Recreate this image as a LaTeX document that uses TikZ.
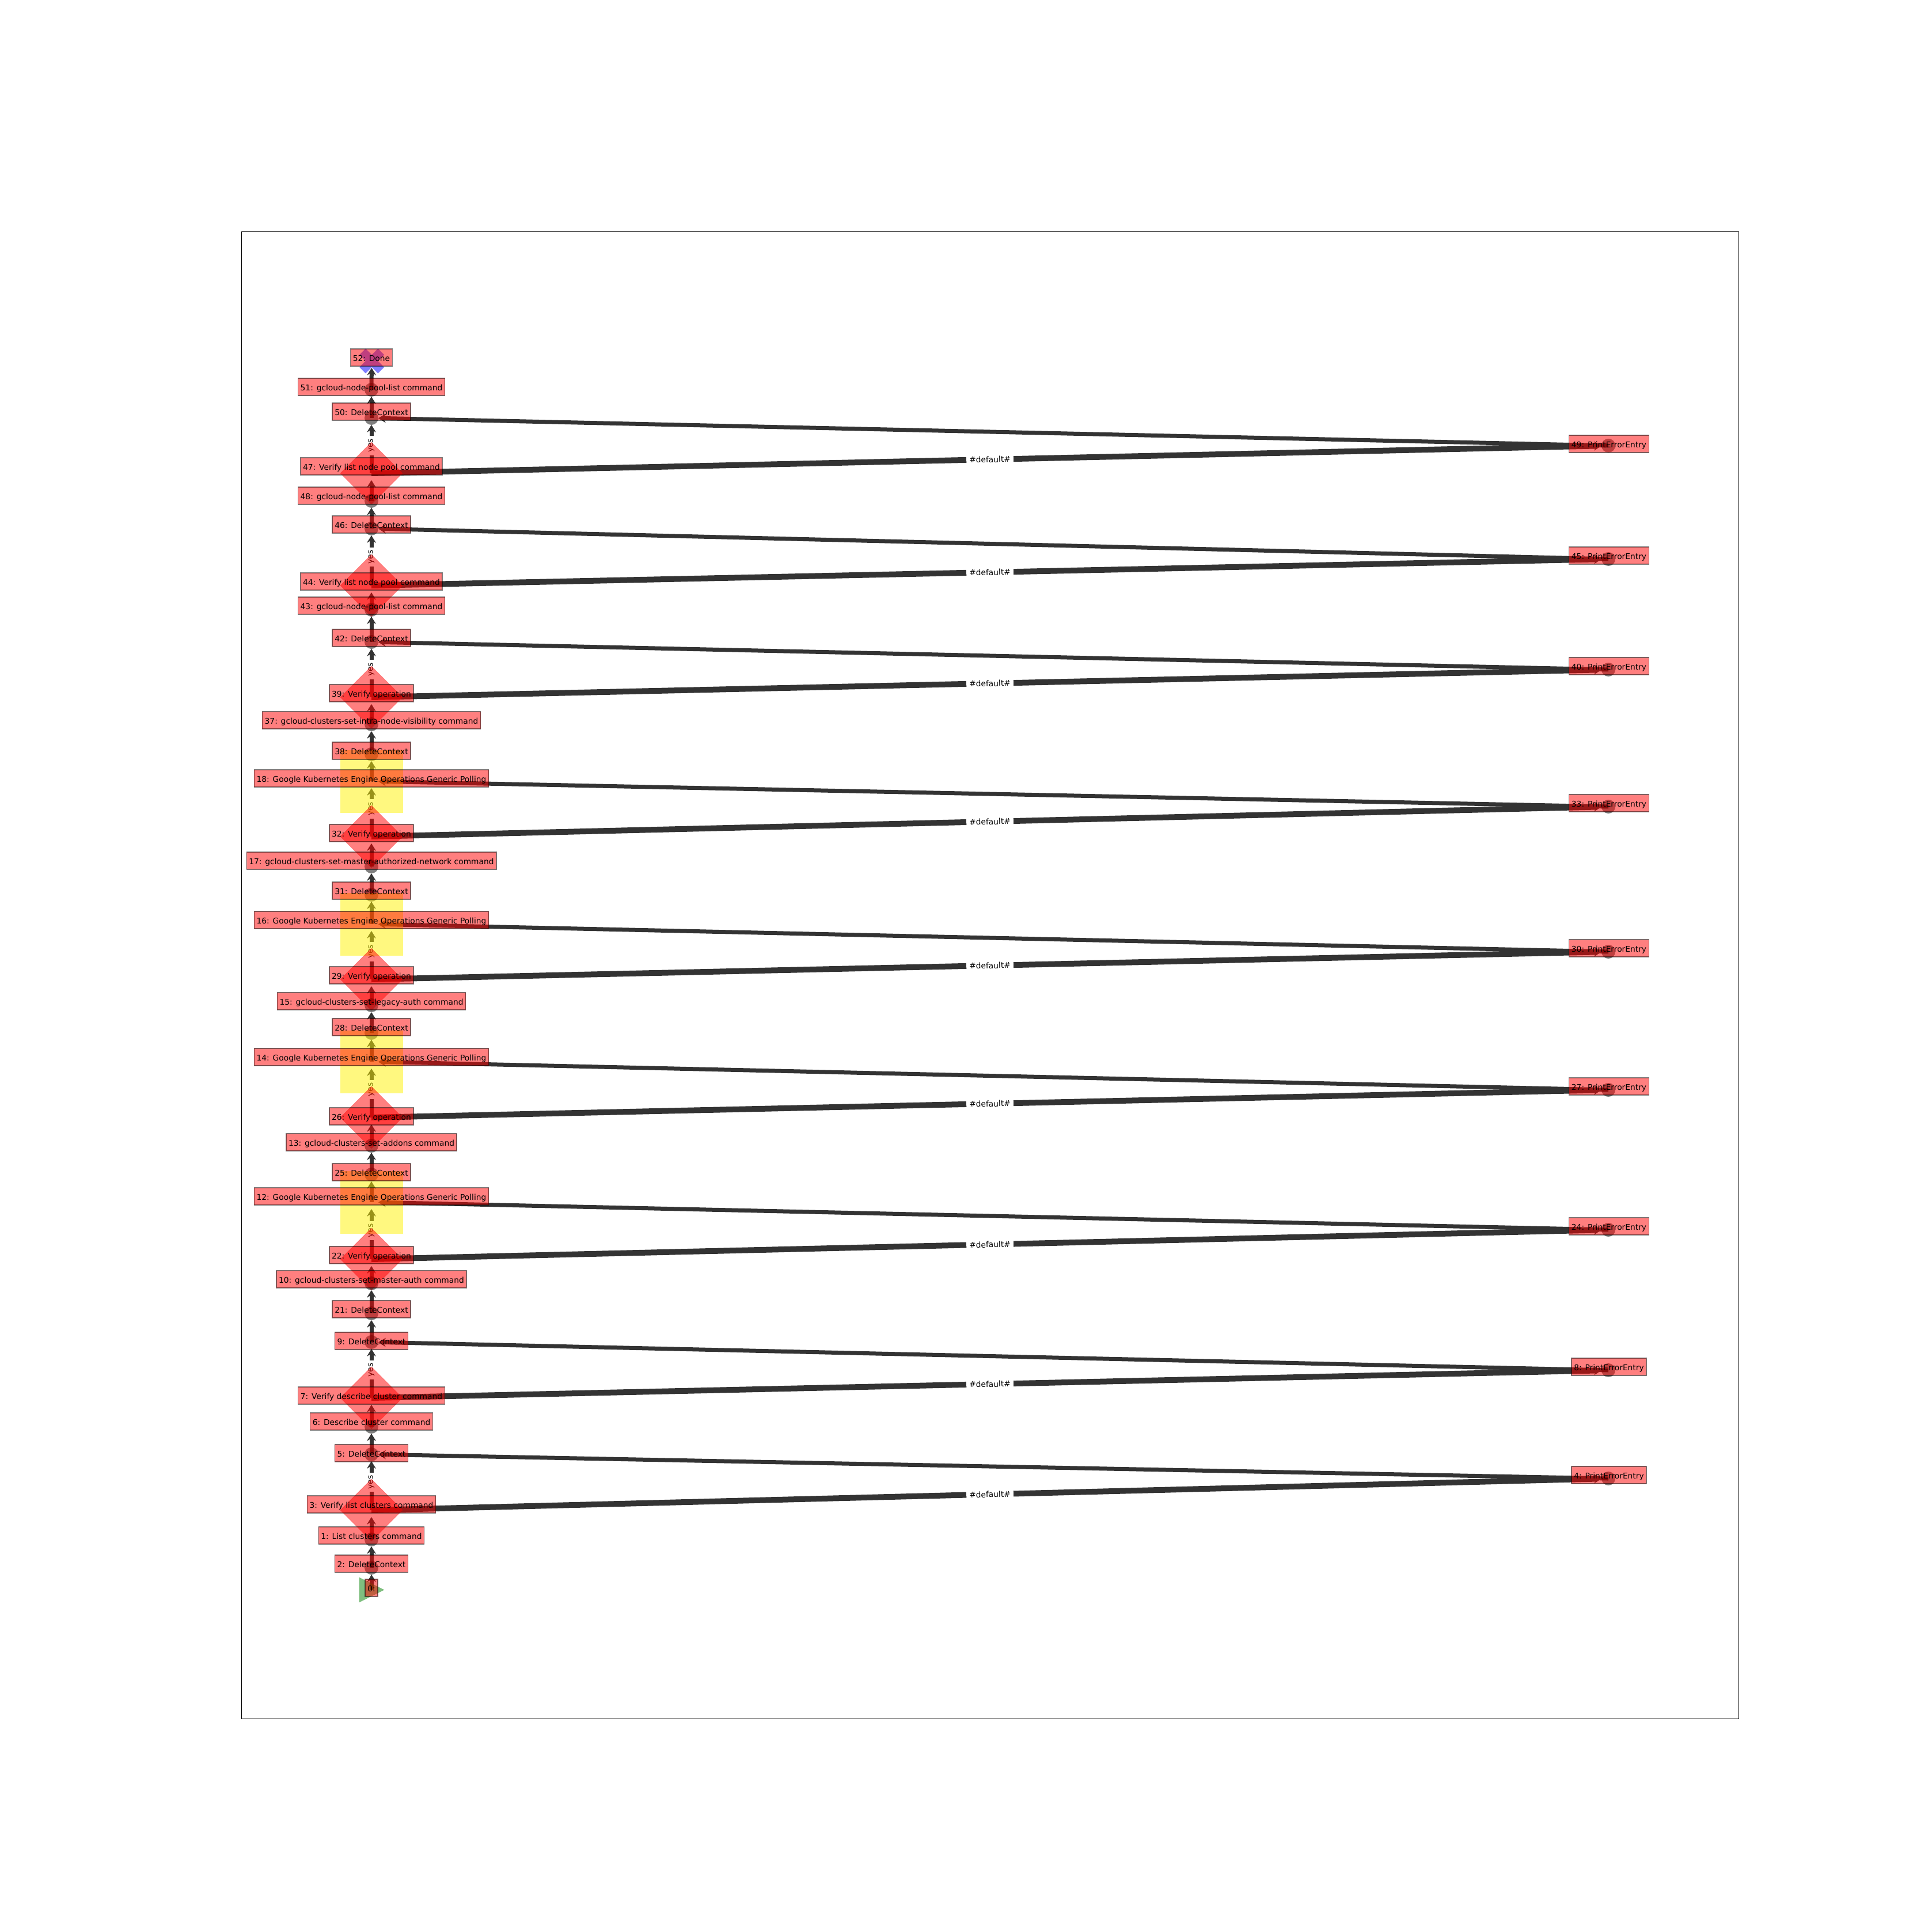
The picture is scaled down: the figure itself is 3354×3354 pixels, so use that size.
\documentclass[tikz,border=0pt]{standalone}
\usepackage{fontspec}
\setmainfont{DejaVu Sans}
\usetikzlibrary{shapes.geometric,arrows.meta}
\pgfdeclarelayer{edges}
\pgfdeclarelayer{labels}
\pgfsetlayers{edges,main,labels}
\definecolor{mplgreen}{RGB}{0,128,0}
\definecolor{edgegray}{RGB}{51,51,51}
\tikzset{
  lfont/.style={font=\fontsize{6.9pt}{8pt}\selectfont},
  lbl/.style={lfont, draw=black, draw opacity=0.5, line width=0.7pt, fill=red, fill opacity=0.5, text opacity=1, inner xsep=2.1pt, inner ysep=2.0pt, text height=0.86em, text depth=0.24em},
  circ/.style={circle, inner sep=0pt, minimum size=12pt, fill=black, fill opacity=0.5},
  dia/.style={diamond, inner sep=0pt, minimum width=54pt, minimum height=54pt, fill=red, fill opacity=0.5, draw=red, draw opacity=0.3, line width=0.4pt},
  sq/.style={rectangle, inner sep=0pt, minimum size=54.5pt, fill=yellow, fill opacity=0.5},
  mk/.style={inner sep=0pt, minimum size=21.5pt},
  edge/.style={draw=edgegray, line width=3.5pt, shorten >=6pt, -{Stealth[length=6.5pt,width=8pt,inset=2.5pt,line width=0.4pt]}},
  dflt/.style={edge, line width=5pt},
  elbl/.style={lfont, fill=white, inner xsep=2.5pt, inner ysep=1.5pt, sloped, text=black}
}
\begin{document}
\begin{tikzpicture}[x=0.5pt,y=-0.5pt]
\useasboundingbox (0,0) rectangle (3354,3354);
\draw[line width=0.8pt] (419.3,402.7) rectangle (3019.3,2985.3);

% ---- markers (left column) ----
\node[mk] (m52) at (645.5,627) {};
\fill[blue, fill opacity=0.5, shift={(m52.center)}, rotate=45]
  (-7.6,-22.8) -- (7.6,-22.8) -- (7.6,-7.6) -- (22.8,-7.6) -- (22.8,7.6) -- (7.6,7.6) -- (7.6,22.8) -- (-7.6,22.8) -- (-7.6,7.6) -- (-22.8,7.6) -- (-22.8,-7.6) -- (-7.6,-7.6) -- cycle;
\node[circ] (m51) at (645,677) {};
\node[circ] (m50) at (645,726) {};
\node[dia]  (m47) at (645,822) {};
\node[circ] (m48) at (645,870) {};
\node[circ] (m46) at (645,918) {};
\node[dia]  (m44) at (645,1017) {};
\node[circ] (m43) at (645,1059) {};
\node[circ] (m42) at (645,1115) {};
\node[dia]  (m39) at (645,1211) {};
\node[circ] (m37) at (645,1258) {};
\node[circ] (m38) at (645,1310) {};
\node[sq]   (m18) at (645,1357) {};
\node[dia]  (m32) at (645,1453) {};
\node[circ] (m17) at (645,1505) {};
\node[circ] (m31) at (645,1554) {};
\node[sq]   (m16) at (645,1605) {};
\node[dia]  (m29) at (645,1701) {};
\node[circ] (m15) at (645,1746) {};
\node[circ] (m28) at (645,1794) {};
\node[sq]   (m14) at (645,1844) {};
\node[dia]  (m26) at (645,1941) {};
\node[circ] (m13) at (645,1990) {};
\node[circ] (m25) at (645,2040) {};
\node[sq]   (m12) at (645,2088) {};
\node[dia]  (m22) at (645,2187) {};
\node[circ] (m10) at (645,2229) {};
\node[circ] (m21) at (645,2281) {};
\node[circ] (m9)  at (645,2331) {};
\node[dia]  (m7)  at (645,2428) {};
\node[circ] (m6)  at (645,2478) {};
\node[circ] (m5)  at (645,2526) {};
\node[dia]  (m3)  at (645,2623) {};
\node[circ] (m1)  at (645,2674) {};
\node[circ] (m2)  at (645,2723) {};
\node[mk]   (m0)  at (645.5,2761.5) {};
\fill[mplgreen, fill opacity=0.5] (m0.north west) -- (m0.east) -- (m0.south west) -- cycle;

% ---- markers (right column) ----
\node[circ] (m49) at (2793,774) {};
\node[circ] (m45) at (2793,971) {};
\node[circ] (m40) at (2793,1163) {};
\node[circ] (m33) at (2793,1401) {};
\node[circ] (m30) at (2793,1653) {};
\node[circ] (m27) at (2793,1893) {};
\node[circ] (m24) at (2793,2136) {};
\node[circ] (m8)  at (2793,2380) {};
\node[circ] (m4)  at (2793,2568) {};

% ---- edges ----
\begin{pgfonlayer}{edges}
\draw[edge] (m0.center) -- (m2.center);
\draw[edge] (m2.center) -- (m1.center);
\draw[edge] (m1.center) -- (m3.center);
\draw[edge] (m3.center) -- node[elbl]{yes} (m5.center);
\draw[edge] (m5.center) -- (m6.center);
\draw[edge] (m6.center) -- (m7.center);
\draw[edge] (m7.center) -- node[elbl]{yes} (m9.center);
\draw[edge] (m9.center) -- (m21.center);
\draw[edge] (m21.center) -- (m10.center);
\draw[edge] (m10.center) -- (m22.center);
\draw[edge] (m22.center) -- node[elbl]{yes} (m12.center);
\draw[edge] (m12.center) -- (m25.center);
\draw[edge] (m25.center) -- (m13.center);
\draw[edge] (m13.center) -- (m26.center);
\draw[edge] (m26.center) -- node[elbl]{yes} (m14.center);
\draw[edge] (m14.center) -- (m28.center);
\draw[edge] (m28.center) -- (m15.center);
\draw[edge] (m15.center) -- (m29.center);
\draw[edge] (m29.center) -- node[elbl]{yes} (m16.center);
\draw[edge] (m16.center) -- (m31.center);
\draw[edge] (m31.center) -- (m17.center);
\draw[edge] (m17.center) -- (m32.center);
\draw[edge] (m32.center) -- node[elbl]{yes} (m18.center);
\draw[edge] (m18.center) -- (m38.center);
\draw[edge] (m38.center) -- (m37.center);
\draw[edge] (m37.center) -- (m39.center);
\draw[edge] (m39.center) -- node[elbl]{yes} (m42.center);
\draw[edge] (m42.center) -- (m43.center);
\draw[edge] (m43.center) -- (m44.center);
\draw[edge] (m44.center) -- node[elbl]{yes} (m46.center);
\draw[edge] (m46.center) -- (m48.center);
\draw[edge] (m48.center) -- (m47.center);
\draw[edge] (m47.center) -- node[elbl]{yes} (m50.center);
\draw[edge] (m50.center) -- (m51.center);
\draw[edge] (m51.center) -- (m52.center);
% error branches
\draw[dflt] (m3.center) -- node[elbl]{\#default\#} (m4.center);
\draw[edge] (m4.center) -- (m5.center);
\draw[dflt] (m7.center) -- node[elbl]{\#default\#} (m8.center);
\draw[edge] (m8.center) -- (m9.center);
\draw[dflt] (m22.center) -- node[elbl]{\#default\#} (m24.center);
\draw[edge] (m24.center) -- (m12.center);
\draw[dflt] (m26.center) -- node[elbl]{\#default\#} (m27.center);
\draw[edge] (m27.center) -- (m14.center);
\draw[dflt] (m29.center) -- node[elbl]{\#default\#} (m30.center);
\draw[edge] (m30.center) -- (m16.center);
\draw[dflt] (m32.center) -- node[elbl]{\#default\#} (m33.center);
\draw[edge] (m33.center) -- (m18.center);
\draw[dflt] (m39.center) -- node[elbl]{\#default\#} (m40.center);
\draw[edge] (m40.center) -- (m42.center);
\draw[dflt] (m44.center) -- node[elbl]{\#default\#} (m45.center);
\draw[edge] (m45.center) -- (m46.center);
\draw[dflt] (m47.center) -- node[elbl]{\#default\#} (m49.center);
\draw[edge] (m49.center) -- (m50.center);
\end{pgfonlayer}

% ---- node labels ----
\begin{pgfonlayer}{labels}
\node[lbl] (l52) at (645,621) {52: Done};
\node[lbl] (l51) at (645,672) {51: gcloud-node-pool-list command};
\node[lbl] (l50) at (645,715) {50: DeleteContext};
\node[lbl] (l47) at (645,810) {47: Verify list node pool command};
\node[lbl] (l48) at (645,861) {48: gcloud-node-pool-list command};
\node[lbl] (l46) at (645,911) {46: DeleteContext};
\node[lbl] (l44) at (645,1010) {44: Verify list node pool command};
\node[lbl] (l43) at (645,1052) {43: gcloud-node-pool-list command};
\node[lbl] (l42) at (645,1108) {42: DeleteContext};
\node[lbl] (l39) at (645,1204) {39: Verify operation};
\node[lbl] (l37) at (645,1251) {37: gcloud-clusters-set-intra-node-visibility command};
\node[lbl] (l38) at (645,1304) {38: DeleteContext};
\node[lbl] (l18) at (645,1352) {18: Google Kubernetes Engine Operations Generic Polling};
\node[lbl] (l32) at (645,1447) {32: Verify operation};
\node[lbl] (l17) at (645,1495) {17: gcloud-clusters-set-master-authorized-network command};
\node[lbl] (l31) at (645,1547) {31: DeleteContext};
\node[lbl] (l16) at (645,1598) {16: Google Kubernetes Engine Operations Generic Polling};
\node[lbl] (l29) at (645,1694) {29: Verify operation};
\node[lbl] (l15) at (645,1739) {15: gcloud-clusters-set-legacy-auth command};
\node[lbl] (l28) at (645,1784) {28: DeleteContext};
\node[lbl] (l14) at (645,1836) {14: Google Kubernetes Engine Operations Generic Polling};
\node[lbl] (l26) at (645,1939) {26: Verify operation};
\node[lbl] (l13) at (645,1984) {13: gcloud-clusters-set-addons command};
\node[lbl] (l25) at (645,2036) {25: DeleteContext};
\node[lbl] (l12) at (645,2078) {12: Google Kubernetes Engine Operations Generic Polling};
\node[lbl] (l22) at (645,2180) {22: Verify operation};
\node[lbl] (l10) at (645,2222) {10: gcloud-clusters-set-master-auth command};
\node[lbl] (l21) at (645,2274) {21: DeleteContext};
\node[lbl] (l9)  at (645,2329) {9: DeleteContext};
\node[lbl] (l7)  at (645,2424) {7: Verify describe cluster command};
\node[lbl] (l6)  at (645,2469) {6: Describe cluster command};
\node[lbl] (l5)  at (645,2524) {5: DeleteContext};
\node[lbl] (l3)  at (645,2613) {3: Verify list clusters command};
\node[lbl] (l1)  at (645,2667) {1: List clusters command};
\node[lbl] (l2)  at (645,2716) {2: DeleteContext};
\node[lbl] (l0)  at (645,2758) {0:\hspace{0.318em}};
\node[lbl] (l49) at (2794,771) {49: PrintErrorEntry};
\node[lbl] (l45) at (2794,965) {45: PrintErrorEntry};
\node[lbl] (l40) at (2794,1157) {40: PrintErrorEntry};
\node[lbl] (l33) at (2794,1395) {33: PrintErrorEntry};
\node[lbl] (l30) at (2794,1647) {30: PrintErrorEntry};
\node[lbl] (l27) at (2794,1887) {27: PrintErrorEntry};
\node[lbl] (l24) at (2794,2130) {24: PrintErrorEntry};
\node[lbl] (l8)  at (2794,2374) {8: PrintErrorEntry};
\node[lbl] (l4)  at (2794,2562) {4: PrintErrorEntry};
\end{pgfonlayer}
\end{tikzpicture}
\end{document}
